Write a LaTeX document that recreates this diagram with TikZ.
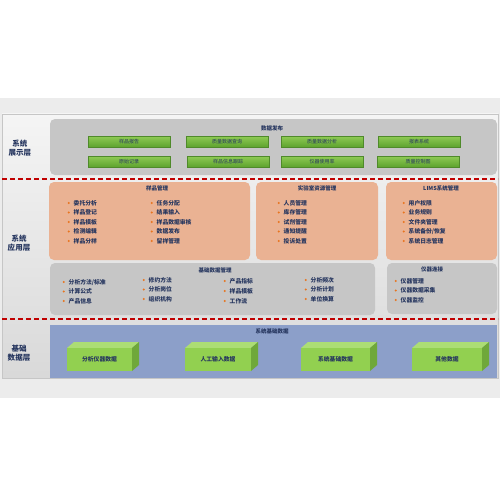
\documentclass[tikz,border=0pt]{standalone}
\usepackage{fontspec}
\setmainfont{Noto Sans CJK SC}
\usetikzlibrary{positioning}
\definecolor{navy}{HTML}{26365F}
\definecolor{dotorange}{HTML}{E8741E}
\definecolor{boxorange}{HTML}{EAB293}
\definecolor{boxgrey}{HTML}{C6C6C6}
\definecolor{boxblue}{HTML}{8C9FC9}
\definecolor{btntop}{HTML}{8FCB55}
\definecolor{btnbot}{HTML}{5EA32E}
\definecolor{btnline}{HTML}{4F8A2A}
\definecolor{cubefront}{HTML}{92D050}
\definecolor{cubetop}{HTML}{ACDD74}
\definecolor{cubeside}{HTML}{6FA83A}
\definecolor{dashred}{HTML}{C00000}
\tikzset{
  layer/.style={font=\fontsize{7.5}{9}\selectfont\bfseries, text=navy, align=center},
  title/.style={font=\fontsize{5.5}{6}\selectfont\bfseries, text=navy},
  btn/.style={draw=btnline, line width=0.4pt, top color=btntop, bottom color=btnbot,
    minimum width=82pt, minimum height=11pt, inner sep=0pt, font=\fontsize{5}{5}\selectfont, text=navy},
  item/.style={anchor=west, inner sep=0.5pt, font=\fontsize{5.8}{6}\selectfont\bfseries, text=navy,
    label={[dot]left:}},
  dot/.style={circle, fill=dotorange, minimum size=2.2pt, inner sep=0pt, label distance=3pt},
  sep/.style={dashred, line width=1.3pt, dash pattern=on 5pt off 3pt},
  card/.style={rounded corners=5pt},
  cubelabel/.style={font=\fontsize{5.8}{6}\selectfont\bfseries, text=navy}
}

\begin{document}
\begin{tikzpicture}[x=1pt, y=-1pt]
    \useasboundingbox (0,0) rectangle (500,500);
    \fill[white] (0,0) rectangle (500,500);
    % outer band and panel
    \fill[gray!15] (0,98) rectangle (500,398);
    \shade[top color=gray!8, bottom color=gray!30, draw=gray!45, line width=0.6pt] (2,114) rectangle (498,378);
    % layer labels
    \node[layer] (show) at (20,148) {系统\\展示层};
    \node[layer] (app) at (19,243) {系统\\应用层};
    \node[layer] (base) at (19,353) {基础\\数据层};
    % separators
    \draw[sep] (2,179) -- (498,179);
    \draw[sep] (2,319) -- (498,319);
    % display layer
    \fill[card, boxgrey] (50,119) rectangle (497,175);
    \node[title] (pub) at (272,128) {数据发布};
    \foreach \x/\t [count=\i] in {129/样品报告, 227/质量数据查询, 322/质量数据分析, 419/报表系统}
        \node[btn] (btna\i) at (\x,141.5) {\t};
    \foreach \x/\t [count=\i] in {129/原始记录, 228/样品信息跟踪, 322/仪器使用率, 418/质量控制图}
        \node[btn] (btnb\i) at (\x,161.5) {\t};
    % application layer
    \fill[card, boxorange] (49,182) rectangle (250,260);
    \fill[card, boxorange] (256,182) rectangle (378,260);
    \fill[card, boxorange] (386,182) rectangle (497,260);
    \node[title] (sample) at (157,188) {样品管理};
    \node[title] (lab) at (317,188) {实验室资源管理};
    \node[title] (lims) at (441,188) {LIMS系统管理};
    \foreach \t [count=\i] in {委托分析, 样品登记, 样品模板, 检测编辑, 样品分样}
        \node[item] (sa\i) at (73,193.5+9.5*\i) {\t};
    \foreach \t [count=\i] in {任务分配, 结果输入, 样品数据审核, 数据发布, 留样管理}
        \node[item] (sb\i) at (156,193.5+9.5*\i) {\t};
    \foreach \t [count=\i] in {人员管理, 库存管理, 试剂管理, 通知提醒, 投诉处置}
        \node[item] (lr\i) at (283,193.5+9.5*\i) {\t};
    \foreach \t [count=\i] in {用户权限, 业务规则, 文件夹管理, 系统备份/恢复, 系统日志管理}
        \node[item] (ls\i) at (408,193.5+9.5*\i) {\t};
    % basic data management
    \fill[card, boxgrey] (50,263) rectangle (375,315);
    \fill[card, boxgrey] (387,263) rectangle (497,314);
    \node[title] (basic) at (215,270) {基础数据管理};
    \node[title] (inst) at (432,269) {仪器连接};
    \foreach \t [count=\i] in {分析方法/标准, 计算公式, 产品信息}
        \node[item] (ba\i) at (68,272.5+9.5*\i) {\t};
    \foreach \t [count=\i] in {修约方法, 分析岗位, 组织机构}
        \node[item] (bb\i) at (148,270.5+9.5*\i) {\t};
    \foreach \t [count=\i] in {产品指标, 样品模板, 工作流}
        \node[item] (bc\i) at (229,271+10*\i) {\t};
    \foreach \t [count=\i] in {分析频次, 分析计划, 单位换算}
        \node[item] (bd\i) at (310,270.5+9.5*\i) {\t};
    \foreach \t [count=\i] in {仪器管理, 仪器数据采集, 仪器监控}
        \node[item] (ic\i) at (400,271.5+9.5*\i) {\t};
    % base data layer
    \fill[boxblue] (50,325) rectangle (497,378);
    \node[title] (sysdata) at (272,331) {系统基础数据};
    \foreach \x/\w/\t [count=\i] in {67/65/分析仪器数据, 185/66/人工输入数据, 301/69/系统基础数据, 412/70/其他数据} {
        \coordinate (c\i) at (\x,348);
        \fill[cubetop] (c\i) -- ++(7,-6) -- ++(\w,0) -- ++(-7,6) -- cycle;
        \fill[cubeside] ([xshift=\w]c\i) -- ++(7,-6) -- ++(0,23) -- ++(-7,6) -- cycle;
        \fill[cubefront] (c\i) rectangle ++(\w,23);
        \node[cubelabel] (cube\i) at ([xshift=\w/2, yshift=-11.5]c\i) {\t};
    }
\end{tikzpicture}
\end{document}
